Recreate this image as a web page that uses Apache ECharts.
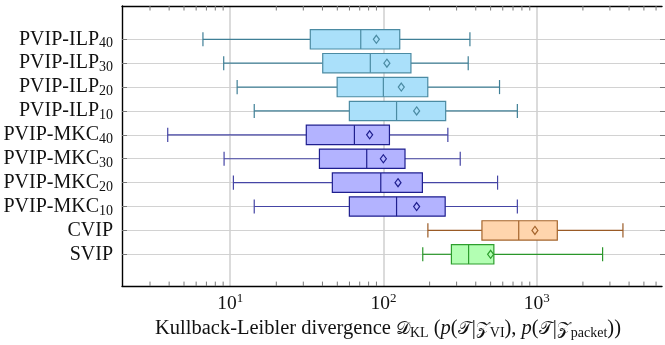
<!DOCTYPE html>
<html>
<head>
<meta charset="utf-8">
<script src="https://cdn.jsdelivr.net/npm/echarts@6/dist/echarts.min.js"></script>
<style>html,body{margin:0;padding:0;background:#fff;}#c{width:665px;height:345px;}</style>
</head>
<body>
<div id="c"></div>
<script>
// ---- data (top row first) ----
const categories = ['PVIP-ILP|40','PVIP-ILP|30','PVIP-ILP|20','PVIP-ILP|10',
                    'PVIP-MKC|40','PVIP-MKC|30','PVIP-MKC|20','PVIP-MKC|10',
                    'CVIP|','SVIP|'];
const groups      = ['ILP','ILP','ILP','ILP','MKC','MKC','MKC','MKC','CVIP','SVIP'];
const lowWhisker  = [6.6, 9.0, 11.0, 14.2, 3.9, 9.05, 10.4, 14.2, 190, 176];
const q1          = [32.8, 39.5, 49, 58.8, 30.9, 37.6, 45.6, 58.8, 426, 270];
const median      = [69.7, 80.4, 97.7, 119, 63.4, 76.2, 94, 119, 738, 349];
const q3          = [124.8, 147.5, 189.7, 247.8, 107, 135, 175, 246, 1313, 509];
const highWhisker = [356, 347, 554, 723, 256, 308, 538, 723, 3500, 2583];
const means       = [88, 103, 127.7, 160.6, 79.6, 97.7, 121.6, 160.6, 940, 485];
const xTickValues = [10, 100, 1000];
const xTickLabels = [['10','1'], ['10','2'], ['10','3']];
const xMinorTicks = [3,4,5,6,7,8,9,20,30,40,50,60,70,80,90,200,300,400,500,600,700,800,900,2000,3000,4000,5000,6000];
const xMin = 1.97, xMax = 6560;

const styles = {
  ILP:  {fill:'#aae0fa', stroke:'#4b8ba3', whisker:'#3f7f96'},
  MKC:  {fill:'#b3b3ff', stroke:'#1f1f8f', whisker:'#4545a5'},
  CVIP: {fill:'#ffd5ad', stroke:'#a5652d', whisker:'#9a5a25'},
  SVIP: {fill:'#b3ffb3', stroke:'#2e9e2e', whisker:'#2a962a'}
};

const serif = '"Liberation Serif", "DejaVu Serif", serif';
const chart = echarts.init(document.getElementById('c'), null, {renderer:'canvas'});

const boxData = categories.map((c, i) => [i, lowWhisker[i], q1[i], median[i], q3[i], highWhisker[i], means[i]]);

function renderBox(params, api) {
  const y = api.value(0);
  const g = styles[groups[y]];
  const band = api.size([0, 1])[1];
  const bh = band * 0.81, ch = band * 0.59;
  const lo = api.coord([api.value(1), y]);
  const a = api.coord([api.value(2), y]);
  const m = api.coord([api.value(3), y]);
  const b = api.coord([api.value(4), y]);
  const hi = api.coord([api.value(5), y]);
  const mu = api.coord([api.value(6), y]);
  const cy = lo[1];
  const lw = 1.2;
  const dw = 3, dh = 4;
  return {type:'group', children:[
    {type:'line', shape:{x1:lo[0], y1:cy, x2:a[0], y2:cy}, style:{stroke:g.whisker, lineWidth:lw}},
    {type:'line', shape:{x1:b[0], y1:cy, x2:hi[0], y2:cy}, style:{stroke:g.whisker, lineWidth:lw}},
    {type:'line', shape:{x1:lo[0], y1:cy-ch/2, x2:lo[0], y2:cy+ch/2}, style:{stroke:g.whisker, lineWidth:lw}},
    {type:'line', shape:{x1:hi[0], y1:cy-ch/2, x2:hi[0], y2:cy+ch/2}, style:{stroke:g.whisker, lineWidth:lw}},
    {type:'rect', shape:{x:a[0], y:cy-bh/2, width:b[0]-a[0], height:bh}, style:{fill:g.fill, stroke:g.stroke, lineWidth:lw}},
    {type:'line', shape:{x1:m[0], y1:cy-bh/2, x2:m[0], y2:cy+bh/2}, style:{stroke:g.stroke, lineWidth:lw}},
    {type:'polygon', shape:{points:[[mu[0],cy-dh],[mu[0]+dw,cy],[mu[0],cy+dh],[mu[0]-dw,cy]]}, style:{fill:'none', stroke:g.stroke, lineWidth:lw}}
  ]};
}

function renderMinor(params, api) {
  const v = api.value(0);
  const bot = api.coord([v, 0]);
  const top = api.coord([v, 1]);
  const len = 4.5;
  const st = {stroke:'#7a7a7a', lineWidth:1};
  return {type:'group', children:[
    {type:'line', shape:{x1:bot[0], y1:bot[1], x2:bot[0], y2:bot[1]-len}, style:st},
    {type:'line', shape:{x1:top[0], y1:top[1], x2:top[0], y2:top[1]+len}, style:st}
  ]};
}

function xLabel(v) {
  const k = xTickValues.findIndex(t => Math.abs(t - v) / t < 1e-6);
  if (k < 0) return '';
  return '{b|' + xTickLabels[k][0] + '}{p|' + xTickLabels[k][1] + '}';
}
function yLabel(v) {
  const parts = v.split('|');
  return '{b|' + parts[0] + '}' + (parts[1] ? '{s|' + parts[1] + '}' : '');
}

const calli = '"DejaVu Serif", "DejaVu Sans", serif';
const frameLine = {show:true, lineStyle:{color:'#000', width:1.4}};
const option = {
  animation: false,
  grid: [
    {left:122, right:0, top:6, bottom:58},
    {left:122, right:0, top:39.3, bottom:90.7}
  ],
  xAxis: [
    {type:'log', gridIndex:0, min:xMin, max:xMax, position:'bottom',
     axisLine:frameLine, axisTick:{show:false},
     splitLine:{show:true, showMinLine:false, showMaxLine:false, lineStyle:{color:'#cfcfcf', width:1.5}},
     axisLabel:{formatter:xLabel, margin:6, rich:{
       b:{fontFamily:serif, fontSize:19.5, color:'#111'},
       p:{fontFamily:serif, fontSize:13, color:'#111', padding:[0,0,10,0]}}},
     name:'{t|Kullback-Leibler divergence }{c|𝒟}{s|KL}{t| (}{i|p}{t|(}{c|𝒯}{t||}{c|𝒵}{s|VI}{t|), }{i|p}{t|(}{c|𝒯}{t||}{c|𝒵}{s|packet}{t|))}',
     nameLocation:'middle', nameGap:30,
     nameTextStyle:{padding:[0,8,0,0], rich:{
       t:{fontFamily:serif, fontSize:20.5, color:'#111'},
       i:{fontFamily:serif, fontSize:20.5, fontStyle:'italic', color:'#111'},
       c:{fontFamily:calli, fontSize:18, color:'#111'},
       s:{fontFamily:serif, fontSize:14, color:'#111', padding:[8,0,0,0]}}}
    },
    {type:'log', gridIndex:0, min:xMin, max:xMax, position:'top',
     axisLine:frameLine, axisTick:{show:false}, axisLabel:{show:false}, splitLine:{show:false}},
    {type:'log', gridIndex:1, min:xMin, max:xMax, show:false}
  ],
  yAxis: [
    {type:'value', gridIndex:0, min:0, max:1, position:'left',
     axisLine:frameLine, axisTick:{show:false}, axisLabel:{show:false}, splitLine:{show:false}},
    {type:'category', gridIndex:1, data:categories, inverse:true, boundaryGap:false,
     axisLine:{show:false},
     axisTick:{show:true, inside:true, length:5, lineStyle:{color:'#777'}},
     splitLine:{show:true, lineStyle:{color:'#d2d2d2', width:1.2}},
     axisLabel:{formatter:yLabel, margin:9, rich:{
       b:{fontFamily:serif, fontSize:20, color:'#111'},
       s:{fontFamily:serif, fontSize:14, color:'#111', padding:[9,0,0,0]}}}
    },
    {type:'category', gridIndex:1, data:categories, inverse:true, boundaryGap:false, position:'right',
     axisLine:{show:false}, axisLabel:{show:false}, splitLine:{show:false},
     axisTick:{show:true, inside:true, length:5, lineStyle:{color:'#777'}}}
  ],
  series: [
    {type:'custom', xAxisIndex:0, yAxisIndex:0, renderItem:renderMinor, data:xMinorTicks.map(v => [v]), silent:true, z:1},
    {type:'custom', xAxisIndex:2, yAxisIndex:1, renderItem:renderBox, data:boxData,
     encode:{x:[1,2,3,4,5,6], y:0}, z:3}
  ]
};
chart.setOption(option);
</script>
</body>
</html>
